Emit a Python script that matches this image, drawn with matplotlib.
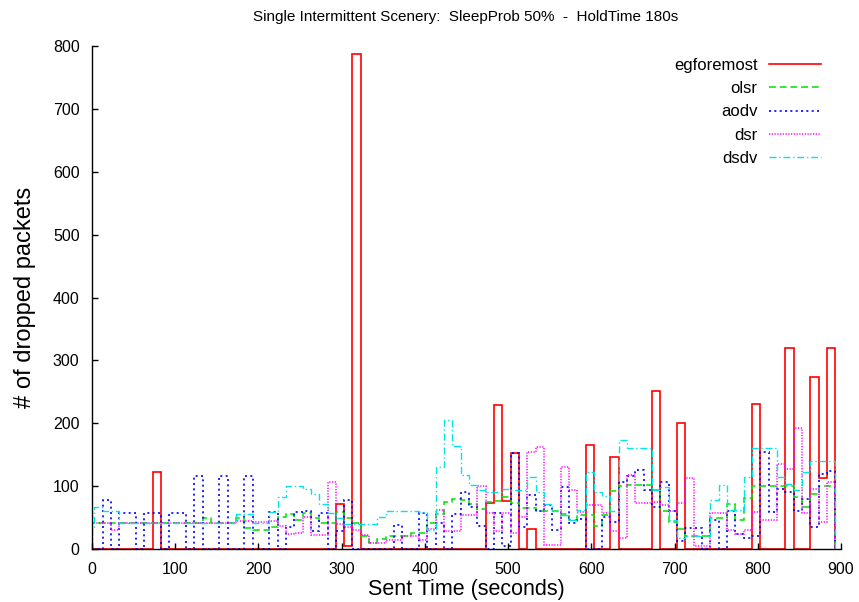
import matplotlib
matplotlib.use("Agg")
import matplotlib.pyplot as plt
import numpy as np

plt.rcParams['font.family'] = ['Liberation Sans', 'DejaVu Sans']

# Sent-time bin edges (seconds)
sent_time = [0] + list(range(3, 894, 10))

egforemost = [0, 0, 0, 0, 0, 0, 0, 0, 122, 0,
              0, 0, 0, 0, 0, 0, 0, 0, 0, 0,
              0, 0, 0, 0, 0, 0, 0, 0, 0, 0,
              71, 5, 787, 0, 0, 0, 0, 0, 0, 0,
              0, 0, 0, 0, 0, 0, 0, 0, 73, 229,
              77, 152, 0, 32, 0, 0, 0, 0, 0, 0,
              166, 0, 0, 147, 0, 0, 0, 0, 251, 0,
              0, 200, 0, 0, 0, 0, 0, 0, 0, 0,
              230, 0, 0, 0, 320, 0, 0, 274, 113, 320]

olsr = [41, 41, 41, 41, 41, 41, 41, 41, 41, 41,
        41, 41, 41, 41, 49, 41, 41, 41, 49, 34,
        30, 30, 35, 51, 55, 46, 58, 50, 41, 41,
        59, 50, 41, 21, 10, 16, 20, 20, 21, 25,
        25, 41, 55, 75, 80, 78, 71, 64, 75, 76,
        83, 73, 65, 65, 60, 60, 60, 55, 46, 54,
        54, 37, 54, 92, 100, 101, 101, 101, 94, 60,
        43, 32, 20, 20, 20, 49, 50, 72, 46, 81,
        100, 100, 100, 100, 100, 82, 67, 88, 100, 100]

aodv = [0, 0, 78, 0, 58, 58, 0, 58, 58, 0,
        58, 58, 0, 116, 0, 0, 116, 0, 0, 116,
        0, 0, 59, 0, 35, 59, 60, 28, 58, 0,
        28, 78, 0, 0, 0, 0, 0, 38, 0, 0,
        58, 0, 41, 0, 55, 90, 67, 37, 0, 57,
        5, 153, 35, 86, 60, 70, 30, 99, 41, 48,
        0, 0, 51, 43, 106, 116, 126, 94, 67, 107,
        60, 12, 33, 33, 0, 46, 0, 61, 24, 17,
        20, 155, 59, 96, 90, 61, 80, 35, 120, 124]

dsr = [41, 41, 41, 30, 41, 41, 41, 41, 41, 41,
       41, 41, 41, 41, 41, 41, 41, 41, 45, 45,
       43, 43, 45, 37, 24, 25, 51, 22, 22, 107,
       40, 35, 30, 22, 9, 9, 14, 14, 20, 20,
       14, 32, 62, 29, 29, 54, 54, 100, 57, 29,
       58, 25, 51, 155, 163, 6, 6, 130, 94, 59,
       70, 70, 58, 28, 17, 118, 73, 73, 75, 70,
       60, 73, 113, 4, 4, 58, 58, 30, 24, 30,
       59, 46, 46, 135, 127, 192, 58, 96, 43, 107]

dsdv = [35, 67, 60, 60, 41, 41, 41, 41, 41, 41,
        41, 41, 41, 41, 41, 41, 41, 41, 55, 55,
        41, 41, 59, 83, 100, 100, 95, 88, 71, 58,
        50, 40, 40, 40, 40, 51, 60, 60, 60, 60,
        59, 30, 131, 205, 164, 117, 102, 94, 90, 90,
        96, 94, 94, 115, 90, 71, 60, 54, 46, 62,
        123, 90, 85, 60, 173, 160, 160, 160, 94, 99,
        46, 17, 20, 20, 20, 78, 102, 62, 62, 115,
        160, 160, 160, 115, 103, 94, 123, 140, 140, 140]

series_names = ["egforemost", "olsr", "aodv", "dsr", "dsdv"]
series_values = [egforemost, olsr, aodv, dsr, dsdv]
colors = ["#ff0000", "#00e000", "#0000ff", "#ff00ff", "#00e5e5"]
styles = ["-", (0, (4.5, 2.5)), (0, (1.2, 2.0)), (0, (0.8, 1.0)), (0, (5, 2, 1, 2))]
widths = [1.2, 1.1, 1.2, 1.1, 1.0]

fig = plt.figure(figsize=(8.59, 6.02), dpi=100)
ax = fig.add_axes([92/859, 53/602, 749/859, 503/602])

edges = np.array(sent_time, dtype=float)
for name, vals, c, ls, lw in zip(series_names, series_values, colors, styles, widths):
    ax.stairs(vals, edges, baseline=0, color=c, linestyle=ls, linewidth=lw, label=name)

ax.set_xlim(0, 900)
ax.set_ylim(0, 800)
ax.set_xticks(range(0, 901, 100))
ax.set_yticks(range(0, 801, 100))
ax.tick_params(direction='in', length=4.5, width=1, labelsize=11.5)
ax.tick_params(axis='x', pad=9)
ax.tick_params(axis='y', pad=9)
ax.spines['top'].set_visible(False)
ax.spines['right'].set_visible(False)
ax.spines['left'].set_linewidth(1.0)
ax.spines['bottom'].set_linewidth(1.0)

fig.text(466/859, 1 - 17/602, "Single Intermittent Scenery:  SleepProb 50%  -  HoldTime 180s",
         fontsize=11, ha='center', va='center')
ax.set_xlabel("Sent Time (seconds)", fontsize=15.5, labelpad=2)
ax.set_ylabel("# of dropped packets", fontsize=17, labelpad=12)

leg = ax.legend(loc='upper right', bbox_to_anchor=(0.982, 0.99), frameon=False,
                markerfirst=False, fontsize=12, handlelength=3.1, handletextpad=0.7,
                labelspacing=0.5, borderaxespad=0)

fig.savefig("out.png", dpi=100)
